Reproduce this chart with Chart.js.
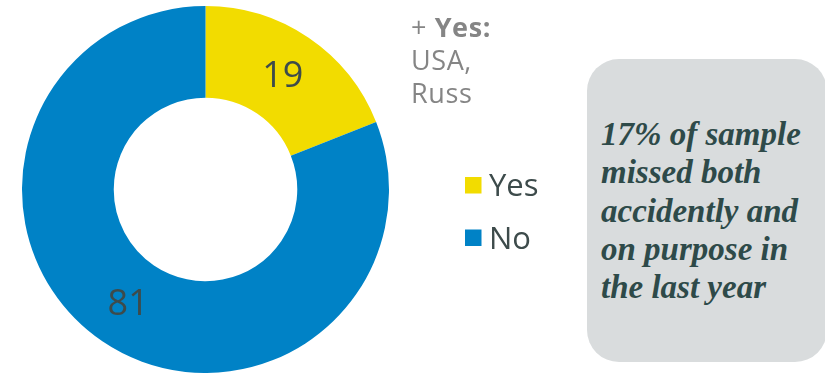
<!DOCTYPE html>
<html>
<head>
<meta charset="utf-8">
<script src="https://cdn.jsdelivr.net/npm/chart.js@4/dist/chart.umd.min.js"></script>
<style>
  html, body { margin: 0; padding: 0; background: #ffffff; }
  #wrap { position: relative; width: 825px; height: 373px; overflow: hidden; }
  #chart { position: absolute; left: 0; top: 0; }
  .note { position: absolute; left: 411px; top: 10px; font-family: "Open Sans", sans-serif; color: #858585; font-size: 27px; line-height: 33px; letter-spacing: 0.6px; }
  .note b { font-weight: 700; }
  .box { position: absolute; left: 587px; top: 59px; width: 240px; height: 303px; background: #d9dcdd; border-radius: 32px; }
  .box-text { position: absolute; left: 601px; top: 115px; font-family: "Liberation Serif", "Times New Roman", serif; font-style: italic; font-weight: 700; font-size: 33px; line-height: 38.3px; color: #2e4a49; white-space: nowrap; }
</style>
</head>
<body>
<div id="wrap">
  <canvas id="chart" width="825" height="373"></canvas>
  <div class="note">+ <b>Yes:</b><br>USA,<br>Russ</div>
  <div class="box"></div>
  <div class="box-text">17% of sample<br>missed both<br>accidently and<br>on purpose in<br>the last year</div>
</div>
<script>
// Share of respondents
const categories = ['Yes', 'No'];
const values = [19, 81];
const sliceColors = ['#f2dc00', '#0082c6'];

// Value labels at each slice's centroid
const sliceLabels = {
  id: 'sliceLabels',
  afterDatasetsDraw(chart) {
    const ctx = chart.ctx;
    const meta = chart.getDatasetMeta(0);
    ctx.save();
    ctx.font = '36px "Open Sans", sans-serif';
    ctx.fillStyle = '#3d4b4b';
    ctx.textAlign = 'center';
    ctx.textBaseline = 'middle';
    meta.data.forEach((arc, i) => {
      const p = arc.tooltipPosition();
      ctx.fillText(String(chart.data.datasets[0].data[i]), p.x, p.y + 1);
    });
    ctx.restore();
  }
};

// Square-marker legend to the right of the ring
const sideLegend = {
  id: 'sideLegend',
  afterDraw(chart) {
    const ctx = chart.ctx;
    const x0 = 465, y0 = 177, rowGap = 52.5, box = 16.5;
    ctx.save();
    ctx.font = '31px "Open Sans", sans-serif';
    ctx.textBaseline = 'alphabetic';
    ctx.textAlign = 'left';
    chart.data.labels.forEach((lab, i) => {
      const y = y0 + i * rowGap;
      ctx.fillStyle = chart.data.datasets[0].backgroundColor[i];
      ctx.fillRect(x0, y, box, box);
      ctx.fillStyle = '#3d4b4b';
      ctx.fillText(lab, x0 + 24, y + 19);
    });
    ctx.restore();
  }
};

new Chart(document.getElementById('chart'), {
  type: 'doughnut',
  data: {
    labels: categories,
    datasets: [{
      data: values,
      backgroundColor: sliceColors,
      borderWidth: 0
    }]
  },
  options: {
    responsive: false,
    animation: false,
    cutout: '50%',
    layout: { padding: { left: 22, right: 436, top: 6, bottom: 0 } },
    plugins: {
      legend: { display: false },
      tooltip: { enabled: false }
    }
  },
  plugins: [sliceLabels, sideLegend]
});
</script>
</body>
</html>
